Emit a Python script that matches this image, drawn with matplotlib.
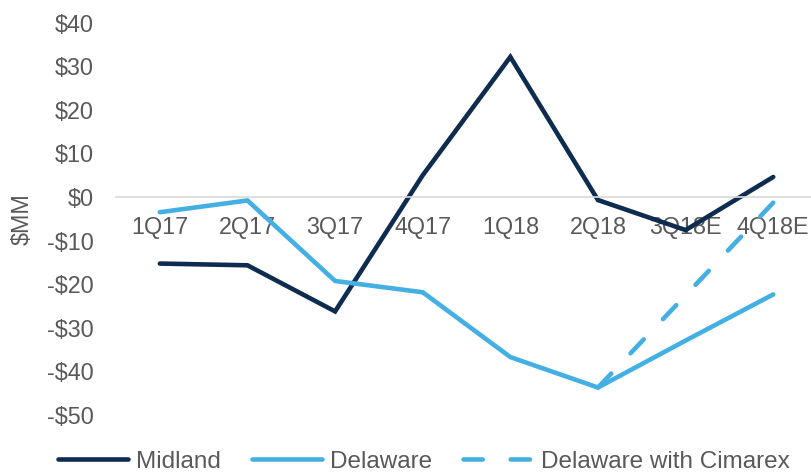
import matplotlib
matplotlib.use("Agg")
import matplotlib.pyplot as plt  # noqa: E402

quarters = ["1Q17", "2Q17", "3Q17", "4Q17", "1Q18", "2Q18", "3Q18E", "4Q18E"]
midland = [-15.3, -15.7, -26.3, 5.0, 32.2, -0.7, -7.6, 4.6]
delaware = [-3.5, -0.8, -19.3, -21.9, -36.8, -43.8, -33.0, -22.4]
cimarex_quarters = ["2Q18", "3Q18E", "4Q18E"]
delaware_cimarex = [-43.8, -22.6, -1.3]
y_ticks = [40, 30, 20, 10, 0, -10, -20, -30, -40, -50]

NAVY = "#0E2B50"
LIGHT = "#44AFE3"
GREY_TEXT = "#595959"

plt.rcParams["font.family"] = ["Liberation Sans", "DejaVu Sans"]

fig = plt.figure(figsize=(8.12, 4.74), dpi=100)
ax = fig.add_axes([0.1429, 0.1255, 0.8633, 0.826])

x = list(range(len(quarters)))
xc = [quarters.index(q) for q in cimarex_quarters]

ax.plot(x, midland, color=NAVY, linewidth=3.3, solid_capstyle="round",
        solid_joinstyle="miter", label="Midland")
ax.plot(x, delaware, color=LIGHT, linewidth=3.3, solid_capstyle="round",
        solid_joinstyle="miter", label="Delaware")
ax.plot(xc, delaware_cimarex, color=LIGHT, linewidth=3.3,
        linestyle=(0, (4.2, 6.1)), dash_capstyle="round",
        label="Delaware with Cimarex")

ax.set_xlim(-0.5, len(quarters) - 0.5)
ax.set_ylim(-50, 40)
ax.set_xticks(x)
ax.set_xticklabels(quarters)
ax.set_yticks(y_ticks)
ax.set_yticklabels([f"${v}" if v >= 0 else f"-${-v}" for v in y_ticks])
ax.tick_params(axis="both", length=0, labelsize=16.8, colors=GREY_TEXT)
ax.tick_params(axis="x", pad=14)
ax.tick_params(axis="y", pad=16)

for side in ["top", "right", "left"]:
    ax.spines[side].set_visible(False)
ax.spines["bottom"].set_position(("data", 0))
ax.spines["bottom"].set_color("#D9D9D9")
ax.spines["bottom"].set_linewidth(1.2)
ax.set_axisbelow(True)

ax.set_ylabel("$MM", fontsize=16.8, color=GREY_TEXT)
ax.yaxis.set_label_coords(-0.118, 0.5)

fig.legend(loc="lower center", bbox_to_anchor=(0.522, -0.044), ncol=3,
           frameon=False, fontsize=17.5, handlelength=2.9, handletextpad=0.3,
           columnspacing=1.3, labelcolor=GREY_TEXT)

fig.savefig("out.png", dpi=100)
